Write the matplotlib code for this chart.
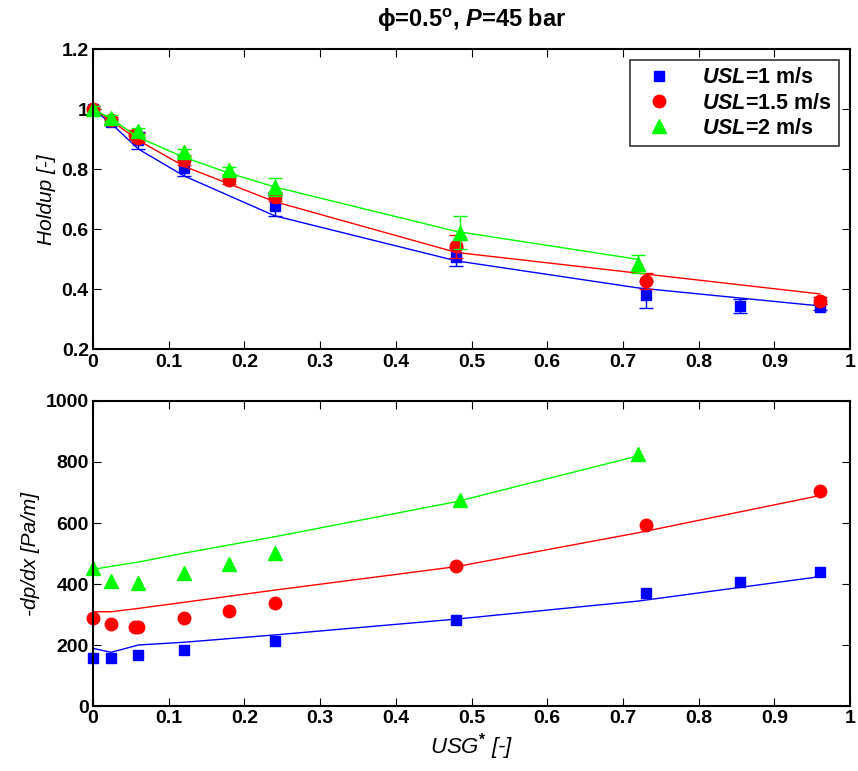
import matplotlib
matplotlib.use("Agg")
import matplotlib.pyplot as plt

plt.rcParams['font.family'] = ['Liberation Sans', 'DejaVu Sans']
plt.rcParams['mathtext.fontset'] = 'custom'
plt.rcParams['mathtext.rm'] = 'Liberation Sans:bold'
plt.rcParams['mathtext.it'] = 'Liberation Sans:bold:italic'
plt.rcParams['mathtext.bf'] = 'Liberation Sans:bold'

# ---- holdup data (measured, with error bars) ----
hx_blue = [0, 0.024, 0.06, 0.12, 0.24, 0.48, 0.73, 0.855, 0.96]
hy_blue = [1.0, 0.957, 0.896, 0.805, 0.679, 0.507, 0.382, 0.345, 0.342]
he_blue = [0.01, 0.01, 0.028, 0.027, 0.034, 0.03, 0.045, 0.022, 0.01]

hx_red = [0, 0.024, 0.055, 0.06, 0.12, 0.18, 0.24, 0.48, 0.73, 0.96]
hy_red = [1.0, 0.965, 0.915, 0.905, 0.83, 0.765, 0.708, 0.543, 0.428, 0.362]
he_red = [0.01, 0.01, 0.015, 0.015, 0.015, 0.015, 0.015, 0.038, 0.027, 0.012]

hx_green = [0, 0.024, 0.06, 0.12, 0.18, 0.24, 0.485, 0.72]
hy_green = [1.0, 0.969, 0.926, 0.857, 0.797, 0.741, 0.589, 0.484]
he_green = [0.01, 0.01, 0.01, 0.01, 0.012, 0.03, 0.056, 0.03]

# ---- holdup model lines ----
mx_blue = [0, 0.024, 0.06, 0.12, 0.24, 0.48, 0.72, 0.96]
my_blue = [1.0, 0.952, 0.867, 0.778, 0.645, 0.495, 0.405, 0.345]
mx_red = [0, 0.024, 0.06, 0.12, 0.18, 0.24, 0.48, 0.72, 0.96]
my_red = [1.0, 0.962, 0.896, 0.81, 0.751, 0.692, 0.523, 0.454, 0.385]
mx_green = [0, 0.024, 0.06, 0.12, 0.18, 0.24, 0.48, 0.72]
my_green = [1.0, 0.968, 0.906, 0.84, 0.787, 0.741, 0.593, 0.50]

# ---- pressure gradient data ----
px_blue = [0, 0.024, 0.06, 0.12, 0.24, 0.48, 0.73, 0.855, 0.96]
py_blue = [156, 156, 166, 184, 214, 282, 369, 405, 438]
px_red = [0, 0.024, 0.055, 0.06, 0.12, 0.18, 0.24, 0.48, 0.73, 0.96]
py_red = [287, 269, 260, 260, 287, 312, 339, 460, 593, 705]
px_green = [0, 0.024, 0.06, 0.12, 0.18, 0.24, 0.485, 0.72]
py_green = [451, 411, 402, 435, 466, 501, 675, 825]

# ---- pressure gradient model lines ----
pmx_blue = [0, 0.024, 0.06, 0.12, 0.24, 0.48, 0.72, 0.96]
pmy_blue = [189, 176, 200, 209, 233, 285, 344, 424]
pmx_red = [0, 0.024, 0.06, 0.12, 0.24, 0.48, 0.72, 0.96]
pmy_red = [309, 309, 320, 340, 380, 457, 568, 690]
pmx_green = [0, 0.024, 0.06, 0.12, 0.24, 0.48, 0.72]
pmy_green = [448, 458, 472, 501, 555, 670, 820]

labels = [r'$\mathit{USL}$=1 m/s', r'$\mathit{USL}$=1.5 m/s', r'$\mathit{USL}$=2 m/s']
colors = ['#0000ff', '#ff0000', '#00ff00']
markers = ['s', 'o', '^']
msizes = [7, 9, 10]

fig = plt.figure(figsize=(8.58, 7.71), dpi=100)
ax1 = fig.add_axes([0.1084, 0.5467, 0.8823, 0.3897])
ax2 = fig.add_axes([0.1084, 0.0843, 0.8823, 0.3956])

# top panel: holdup
series_top = [(hx_blue, hy_blue, he_blue, mx_blue, my_blue),
              (hx_red, hy_red, he_red, mx_red, my_red),
              (hx_green, hy_green, he_green, mx_green, my_green)]
handles = []
for (x, y, e, mx, my), c, m, ms, lab in zip(series_top, colors, markers, msizes, labels):
    ax1.plot(mx, my, '-', color=c, lw=1)
    ax1.errorbar(x, y, yerr=e, fmt='none', ecolor=c, elinewidth=1, capsize=5, capthick=1)
    h, = ax1.plot(x, y, m, color=c, ms=ms, mec=c, ls='none', label=lab, clip_on=False)
    handles.append(h)

ax1.set_xlim(0, 1)
ax1.set_ylim(0.2, 1.2)
ax1.set_xticks([0, 0.1, 0.2, 0.3, 0.4, 0.5, 0.6, 0.7, 0.8, 0.9, 1])
ax1.set_xticklabels(['0', '0.1', '0.2', '0.3', '0.4', '0.5', '0.6', '0.7', '0.8', '0.9', '1'])
ax1.set_yticks([0.2, 0.4, 0.6, 0.8, 1.0, 1.2])
ax1.set_yticklabels(['0.2', '0.4', '0.6', '0.8', '1', '1.2'])
ax1.set_ylabel('Holdup [-]', fontstyle='italic', fontsize=15, labelpad=4)
ax1.set_title(r'$\mathrm{\phi}$=0.5$^{\mathrm{o}}$, $\mathit{P}$=45 bar',
              fontsize=17, fontweight='bold', pad=16)
leg = ax1.legend(handles=handles, loc='upper right', fontsize=15.5, frameon=True,
                 fancybox=False, edgecolor='black', borderaxespad=0.5,
                 handletextpad=1.0, borderpad=0.35, labelspacing=0.2, handlelength=2.0)
leg.get_frame().set_linewidth(1.2)
for t in leg.get_texts():
    t.set_fontweight('bold')

# bottom panel: pressure gradient
series_bot = [(px_blue, py_blue, pmx_blue, pmy_blue),
              (px_red, py_red, pmx_red, pmy_red),
              (px_green, py_green, pmx_green, pmy_green)]
for (x, y, mx, my), c, m, ms in zip(series_bot, colors, markers, msizes):
    ax2.plot(mx, my, '-', color=c, lw=1)
    ax2.plot(x, y, m, color=c, ms=ms, mec=c, ls='none', clip_on=False)

ax2.set_xlim(0, 1)
ax2.set_ylim(0, 1000)
ax2.set_xticks([0, 0.1, 0.2, 0.3, 0.4, 0.5, 0.6, 0.7, 0.8, 0.9, 1])
ax2.set_xticklabels(['0', '0.1', '0.2', '0.3', '0.4', '0.5', '0.6', '0.7', '0.8', '0.9', '1'])
ax2.set_yticks([0, 200, 400, 600, 800, 1000])
ax2.set_ylabel('-dp/dx [Pa/m]', fontstyle='italic', fontsize=15, labelpad=4)
ax2.set_xlabel(r'USG$^{*}$ [-]', fontstyle='italic', fontsize=16, labelpad=3)

for ax in (ax1, ax2):
    ax.tick_params(direction='in', top=True, right=True, length=6, width=0.8,
                   labelsize=14, pad=3)
    for lab in ax.get_xticklabels() + ax.get_yticklabels():
        lab.set_fontweight('bold')
    for s in ax.spines.values():
        s.set_linewidth(1.5)

fig.savefig('out.png', dpi=100)
